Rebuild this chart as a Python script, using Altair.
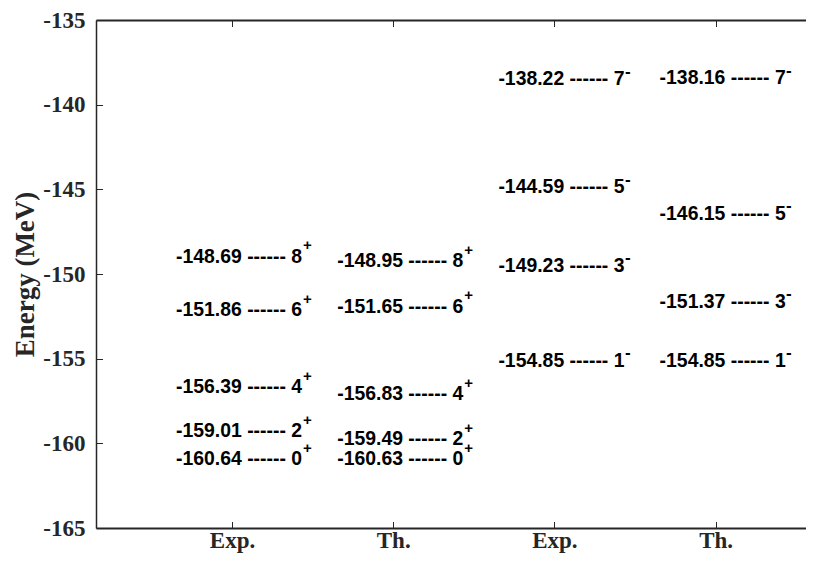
import json
import altair as alt
import pandas as pd

# ---- data ----
col_pos = [1, 2, 3, 4]
col_labels = ["Exp.", "Th.", "Exp.", "Th."]

exp_pos_E = [-160.64, -159.01, -156.39, -151.86, -148.69]
th_pos_E = [-160.63, -159.49, -156.83, -151.65, -148.95]
pos_spins = ["0", "2", "4", "6", "8"]

exp_neg_E = [-154.85, -149.23, -144.59, -138.22]
th_neg_E = [-154.85, -151.37, -146.15, -138.16]
neg_spins = ["1", "3", "5", "7"]

y_ticks = [-165, -160, -155, -150, -145, -140, -135]

rows = []
for c, energies, spins, sign in [
    (1, exp_pos_E, pos_spins, "+"),
    (2, th_pos_E, pos_spins, "+"),
    (3, exp_neg_E, neg_spins, "-"),
    (4, th_neg_E, neg_spins, "-"),
]:
    for e, s in zip(energies, spins):
        rows.append({"col": c, "E": e, "label": f"{e:.2f} ------ {s}", "sup": sign})
df = pd.DataFrame(rows)

AX = "#262626"
SANS = "Liberation Sans"
SERIF = "Liberation Serif"
TICK = 6.5

xs = alt.Scale(domain=[0.1563, 4.5608], nice=False, zero=False)
ys = alt.Scale(domain=[-165, -135], nice=False, zero=False)

x_label_expr = json.dumps(col_labels) + "[datum.value - 1]"

base = alt.Chart(df)

# main level labels + labelled axes + left/bottom frame lines
main = base.mark_text(
    align="left", baseline="alphabetic", dx=-56, dy=10.7,
    font=SANS, fontWeight="bold", fontSize=19.4, color="black",
).encode(
    x=alt.X("col:Q", scale=xs, axis=alt.Axis(
        orient="bottom", values=col_pos, labelExpr=x_label_expr, title=None,
        ticks=False, tickSize=0, domain=True, domainWidth=2, domainColor=AX,
        labelFont=SERIF, labelFontWeight="bold", labelFontSize=23, labelColor=AX,
        labelPadding=1, labelFlush=False, grid=False)),
    y=alt.Y("E:Q", scale=ys, axis=alt.Axis(
        orient="left", values=y_ticks, labelExpr="'' + datum.value",
        title="Energy (MeV)", ticks=False, tickSize=0, domain=True,
        domainWidth=1.5, domainColor=AX,
        labelFont=SERIF, labelFontWeight="bold", labelFontSize=23, labelColor=AX,
        labelPadding=11, labelFlush=False, grid=False,
        titleFont=SERIF, titleFontWeight="bold", titleFontSize=27, titleColor=AX,
        titleAngle=270, titleX=-63, titleY=254, titleAlign="center",
        titleBaseline="alphabetic")),
    text="label:N",
)

def ticks_only(orient, values, offset):
    return alt.Axis(orient=orient, values=values, title=None, labels=False,
                    domain=False, ticks=True, tickSize=TICK, tickWidth=1,
                    tickColor=AX, offset=offset, grid=False)

# positive parity superscripts + inward bottom/left ticks
sup_plus = base.transform_filter(alt.datum.sup == "+").mark_text(
    align="left", baseline="alphabetic", dx=71, dy=-1.5,
    font=SANS, fontWeight="bold", fontSize=15, color="black",
).encode(
    x=alt.X("col:Q", scale=xs, axis=ticks_only("bottom", col_pos, -TICK)),
    y=alt.Y("E:Q", scale=ys, axis=ticks_only("left", y_ticks, -TICK)),
    text="sup:N",
)

# negative parity superscripts + top frame line
sup_minus = base.transform_filter(alt.datum.sup == "-").mark_text(
    align="left", baseline="alphabetic", dx=70.5, dy=2.2,
    font=SANS, fontWeight="bold", fontSize=17, color="black",
).encode(
    x=alt.X("col:Q", scale=xs, axis=alt.Axis(
        orient="top", values=col_pos, title=None, labels=False, ticks=False,
        tickSize=0, domain=True, domainWidth=2, domainColor=AX, grid=False)),
    y=alt.Y("E:Q", scale=ys, axis=None),
    text="sup:N",
)

# invisible layer carrying inward top ticks
top_ticks = base.mark_point(opacity=0).encode(
    x=alt.X("col:Q", scale=xs, axis=ticks_only("top", col_pos, -TICK)),
    y=alt.Y("E:Q", scale=ys, axis=None),
)

chart = alt.layer(main, sup_plus, sup_minus, top_ticks).resolve_axis(
    x="independent", y="independent"
).properties(
    width=710, height=508, autosize="none",
    padding={"left": 88, "top": 12, "right": 0, "bottom": 27},
).configure_view(stroke=None).configure_axis(grid=False)

chart.save("out.html", embed_options={"renderer": "svg", "actions": False})
